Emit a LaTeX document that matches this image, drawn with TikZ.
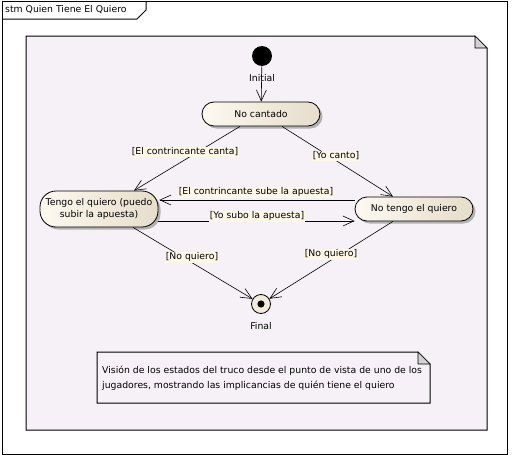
\documentclass[tikz,border=0pt]{standalone}
\usepackage{fontspec}
\setmainfont{DejaVu Sans}
\usetikzlibrary{arrows.meta,calc,shadows}
\definecolor{regionbg}{RGB}{246,241,246}
\definecolor{foldgray}{RGB}{212,208,212}
\definecolor{stA}{RGB}{253,249,240}
\definecolor{stB}{RGB}{230,221,202}
\definecolor{lblbg}{RGB}{253,247,232}
\definecolor{finalbg}{RGB}{242,235,220}
\begin{document}
\begin{tikzpicture}[x=1pt,y=-1pt,
  font=\fontsize{9.3}{12}\selectfont,
  frameline/.style={draw=black, line width=1pt},
  state/.style={draw=black, line width=0.8pt, left color=stA, right color=stB,
    drop shadow={shadow xshift=2.5pt, shadow yshift=-2.5pt, fill=black!30, opacity=1},
    inner sep=1pt, align=center, minimum width=118pt},
  trans/.style={draw=black, line width=0.6pt, -{Straight Barb[length=11pt,width=10pt,line width=0.6pt]}},
  lbl/.style={fill=lblbg, inner sep=1pt},
  plain/.style={inner sep=0pt}]
\useasboundingbox (0,0) rectangle (512,455);
% outer frame
\draw[frameline] (2,1) rectangle (507,454);
\draw[frameline] (2,19) -- (137,19) -- (146,10) -- (146,1);
\node[plain, anchor=west] (tab) at (5,10) {stm Quien Tiene El Quiero};
% region
\fill[regionbg] (26,36) -- (475,36) -- (487,48) -- (487,430) -- (26,430) -- cycle;
\draw[frameline] (26,36) -- (475,36) -- (487,48) -- (487,430) -- (26,430) -- cycle;
\filldraw[fill=foldgray, draw=black, line width=0.6pt] (475,36) -- (475,48) -- (487,48) -- cycle;
% initial
\node[circle, fill=black, minimum size=20pt, inner sep=0pt] (init) at (262,56) {};
\node[plain] (initlbl) at (262,78) {Initial};
% states
\node[state, rounded corners=12pt, minimum height=24pt] (nc) at (261,114) {No cantado};
\node[state, rounded corners=16pt, minimum height=36pt] (tq) at (99,209) {Tengo el quiero (puedo\\subir la apuesta)};
\node[state, rounded corners=12pt, minimum height=24pt] (nt) at (414,209) {No tengo el quiero};
% final
\node[circle, draw=black, line width=0.8pt, fill=finalbg, minimum size=19pt, inner sep=0pt] (fin) at (261,304) {};
\fill[black] (fin.center) circle (3.6);
\node[plain] (finlbl) at (261,326) {Final};
% transitions
\draw[trans] (init) -- (nc);
\draw[trans] ($(nc.south)+(-21,0)$) -- ($(tq.north)+(35,0)$);
\draw[trans] ($(nc.south)+(21,0)$) -- ($(nt.north)+(-21,0)$);
\draw[trans] ($(nt.west)+(0,-9)$) -- ($(tq.east)+(1,-9)$);
\draw[trans] ($(tq.east)+(0,12)$) -- ($(nt.west)+(0,12)$);
\draw[trans] ($(tq.south)+(34,0)$) -- (fin);
\draw[trans] ($(nt.south)+(-21,0)$) -- (fin);
% labels
\node[lbl] (l1) at (185,152) {[El contrincante canta]};
\node[lbl] (l2) at (336,156) {[Yo canto]};
\node[lbl] (l3) at (256,192) {[El contrincante sube la apuesta]};
\node[lbl] (l4) at (257,216) {[Yo subo la apuesta]};
\node[lbl] (l5) at (192,257) {[No quiero]};
\node[lbl] (l6) at (331,254) {[No quiero]};
% note
\fill[regionbg] (97,352) -- (418,352) -- (430,364) -- (430,403) -- (97,403) -- cycle;
\draw[frameline] (97,352) -- (418,352) -- (430,364) -- (430,403) -- (97,403) -- cycle;
\filldraw[fill=foldgray, draw=black, line width=0.6pt] (418,352) -- (418,364) -- (430,364) -- cycle;
\node[plain, anchor=north west, align=left, font=\fontsize{9.3}{15}\selectfont] (notetxt) at (102,366)
  {Visión de los estados del truco desde el punto de vista de uno de los\\jugadores, mostrando las implicancias de quién tiene el quiero};
\end{tikzpicture}
\end{document}
